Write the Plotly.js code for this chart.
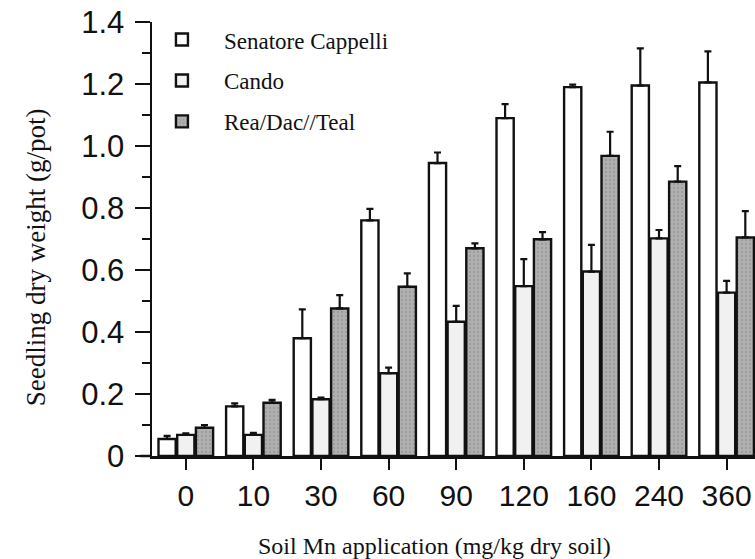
<!DOCTYPE html>
<html>
<head>
<meta charset="utf-8">
<script src="https://cdn.plot.ly/plotly-3.0.1.min.js"></script>
<style>
  html, body { margin: 0; padding: 0; background: #fff; }
  #chart { width: 755px; height: 559px; }
</style>
</head>
<body>
<div id="chart"></div>
<script>
// Soil Mn application rates (mg/kg dry soil)
const categories = ['0', '10', '30', '60', '90', '120', '160', '240', '360'];

// Seedling dry weight (g/pot) and standard errors per cultivar
const senatoreValues = [0.055, 0.16, 0.38, 0.76, 0.945, 1.09, 1.19, 1.195, 1.205];
const senatoreErrors = [0.010, 0.010, 0.093, 0.037, 0.034, 0.045, 0.008, 0.120, 0.100];

const candoValues = [0.068, 0.068, 0.183, 0.267, 0.433, 0.548, 0.595, 0.702, 0.527];
const candoErrors = [0.005, 0.007, 0.005, 0.018, 0.051, 0.087, 0.086, 0.027, 0.038];

const reaValues = [0.091, 0.172, 0.476, 0.546, 0.670, 0.699, 0.968, 0.885, 0.705];
const reaErrors = [0.009, 0.009, 0.043, 0.043, 0.016, 0.023, 0.078, 0.050, 0.085];

const seriesNames = ['Senatore Cappelli', 'Cando', 'Rea/Dac//Teal'];

const yTickVals = [0, 0.2, 0.4, 0.6, 0.8, 1.0, 1.2, 1.4];
const yTickText = ['0', '0.2', '0.4', '0.6', '0.8', '1.0', '1.2', '1.4'];

const xTitle = 'Soil Mn application (mg/kg dry soil)';
const yTitle = 'Seedling dry weight (g/pot)';

const serif = 'Liberation Serif, Times New Roman, serif';
const sans = 'Liberation Sans, Arial, Helvetica, sans-serif';

function upErrors(arr) {
  return {
    type: 'data', array: arr, symmetric: false,
    arrayminus: arr.map(() => 0),
    color: '#111', thickness: 2.2, width: 3.5
  };
}

const outline = { color: '#111', width: 2.4 };

const traces = [
  {
    type: 'bar', name: seriesNames[0], x: categories, y: senatoreValues,
    error_y: upErrors(senatoreErrors),
    marker: { color: '#ffffff', line: outline },
    legendgroup: 'a'
  },
  {
    type: 'bar', name: seriesNames[1], x: categories, y: candoValues,
    error_y: upErrors(candoErrors),
    marker: { color: '#f1f1f1', line: outline },
    legendgroup: 'b'
  },
  {
    type: 'bar', name: seriesNames[2], x: categories, y: reaValues,
    error_y: upErrors(reaErrors),
    marker: {
      color: '#acacac', line: outline,
      pattern: { shape: '.', fillmode: 'overlay', bgcolor: '#b0b0b0', fgcolor: '#888888', size: 4, solidity: 0.25 }
    },
    legendgroup: 'c'
  }
];

const layout = {
  width: 755, height: 559,
  margin: { l: 152, r: 0, t: 22, b: 103, pad: 0 },
  paper_bgcolor: '#ffffff', plot_bgcolor: '#ffffff',
  barmode: 'group', bargap: 0.17, bargroupgap: 0.08,
  showlegend: true,
  legend: {
    x: -0.02, y: 1.009, xanchor: 'left', yanchor: 'top',
    bgcolor: 'rgba(0,0,0,0)', itemwidth: 74, tracegroupgap: 8,
    font: { family: serif, size: 23, color: '#111' },
    traceorder: 'grouped'
  },
  xaxis: {
    type: 'category', range: [-0.5, 8.42],
    showline: true, linecolor: '#111', linewidth: 2.5,
    ticks: 'outside', ticklen: 11, tickwidth: 2, tickcolor: '#111',
    showgrid: false, zeroline: false,
    tickfont: { family: sans, size: 30, color: '#111' }
  },
  yaxis: {
    range: [0, 1.4],
    showline: true, linecolor: '#111', linewidth: 2.5,
    ticks: 'outside', ticklen: 15, tickwidth: 2, tickcolor: '#111',
    tickvals: yTickVals, ticktext: yTickText,
    minor: { dtick: 0.1, ticks: 'outside', ticklen: 8, tickwidth: 2, tickcolor: '#111' },
    showgrid: false, zeroline: false,
    ticklabelstandoff: 4,
    tickfont: { family: sans, size: 31, color: '#111' }
  },
  annotations: [
    {
      text: xTitle, xref: 'paper', yref: 'paper', x: 0.469, y: -0.207,
      xanchor: 'center', yanchor: 'middle', showarrow: false,
      font: { family: serif, size: 24, color: '#111' }
    },
    {
      text: yTitle, xref: 'paper', yref: 'paper', x: -0.192, y: 0.4585,
      xanchor: 'center', yanchor: 'middle', showarrow: false, textangle: -90,
      font: { family: serif, size: 27, color: '#111' }
    }
  ],
  shapes: [
    // short stub of the baseline to the left of the y axis
    { type: 'line', xref: 'paper', yref: 'paper', x0: -0.02, x1: 0, y0: 0, y1: 0, line: { color: '#111', width: 2.5 } }
  ]
};

Plotly.newPlot('chart', traces, layout, { staticPlot: true, displayModeBar: false });
</script>
</body>
</html>
